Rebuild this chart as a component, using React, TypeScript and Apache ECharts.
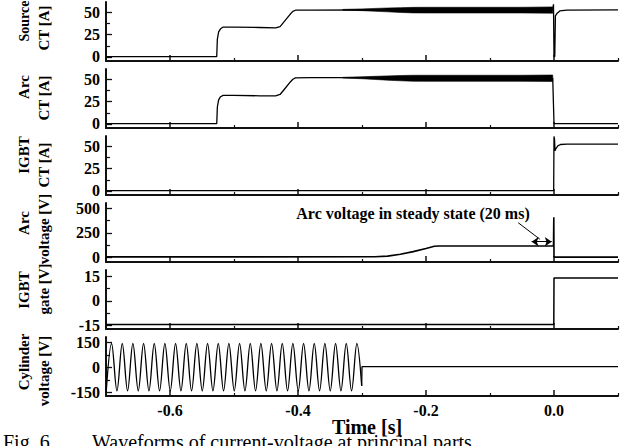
import React, { useEffect, useRef } from "react";
import * as echarts from "echarts";

// ---------------- data ----------------
const timeLabelTicks = [-0.6, -0.4, -0.2, 0.0];
const timeMinorTicks = [-0.5, -0.3, -0.1, 0.1];

const panelTitles = [
  ["Source", "CT [A]"],
  ["Arc", "CT [A]"],
  ["IGBT", "CT [A]"],
  ["Arc", "voltage [V]"],
  ["IGBT", "gate [V]"],
  ["Cylinder", "voltage [V]"],
];
const panelMajorTicks = [[0, 25, 50], [0, 25, 50], [0, 25, 50], [0, 250, 500], [-15, 0, 15], [-150, 0, 150]];
const panelMinorTicks = [[12.5, 37.5], [12.5, 37.5], [12.5, 37.5], [125, 375], [-7.5, 7.5], [-75, 75]];
const panelRanges = [[-4.5, 61.5], [-4.5, 61.5], [-4.5, 61.5], [-46, 556], [-17, 18.8], [-171, 183]];

// Source CT [A]
const srcT = [-0.7, -0.527, -0.526, -0.524, -0.521, -0.517, -0.5, -0.46, -0.435, -0.428, -0.42, -0.412, -0.408, -0.404, -0.38, -0.3, -0.2, -0.1, -0.002, -0.0008, 0.0, 0.0012, 0.0022, 0.005, 0.009, 0.02, 0.1];
const srcCT = [0.4, 0.4, 20, 28, 31.5, 33.5, 33.5, 33, 32.5, 34, 41, 48, 51, 52.3, 52.5, 52.8, 52.5, 52.5, 53, 59, 0.5, 0.5, 46, 49, 51.5, 52.5, 52.8];

// Arc CT [A]
const arcT = [-0.7, -0.527, -0.526, -0.524, -0.521, -0.517, -0.5, -0.46, -0.435, -0.428, -0.42, -0.412, -0.408, -0.404, -0.38, -0.3, -0.2, -0.1, -0.002, 0.0, 0.1];
const arcCT = [0.3, 0.3, 19, 27, 30.5, 32, 32, 31.5, 31.5, 33, 40, 47, 50, 51.5, 51.8, 51.8, 51.3, 51.3, 51.3, 0.5, 0.5];

// ripple envelopes (thick band) before the interruption
const rippleT = [-0.33, -0.3, -0.28, -0.26, -0.24, -0.22, -0.2, -0.15, -0.1, -0.05, -0.002];
const srcRippleHi = [53.2, 53.8, 54.3, 54.8, 55.2, 55.5, 55.6, 55.6, 55.6, 55.6, 56];
const srcRippleLo = [52.4, 51.8, 51.2, 50.5, 49.8, 49.3, 49.2, 49.2, 49.2, 49.2, 49];
const arcRippleHi = [52.2, 52.8, 53.3, 53.8, 54.2, 54.5, 54.5, 54.5, 54.5, 54.5, 54.8];
const arcRippleLo = [51.4, 50.6, 49.8, 49, 48.3, 47.8, 47.7, 47.7, 47.7, 47.7, 47.5];

// IGBT CT [A]
const igbtT = [-0.7, -0.0005, 0.0, 0.0008, 0.0016, 0.003, 0.006, 0.01, 0.02, 0.1];
const igbtCT = [0.3, 0.3, 61, 58, 45, 47.5, 50.5, 52, 52.5, 52.5];

// Arc voltage [V]
const arcVT = [-0.7, -0.28, -0.26, -0.24, -0.22, -0.2, -0.187, -0.18, -0.1, -0.0008, -0.0003, 0.0, 0.1];
const arcV = [6, 7, 14, 33, 60, 92, 115, 117, 117, 117, 410, 4, 4];

// IGBT gate [V]
const gateT = [-0.7, -0.0003, 0.0, 0.1];
const gateV = [-14.3, -14.3, 14, 14];

// Cylinder voltage [V]: extrema of the 60 Hz wave, then the flat part
const cylT = [
  -0.6996, -0.6913, -0.6829, -0.6746, -0.6663, -0.658, -0.6496, -0.6413, -0.6329, -0.6246,
  -0.6163, -0.608, -0.5996, -0.5913, -0.5829, -0.5746, -0.5663, -0.558, -0.5496, -0.5413,
  -0.5329, -0.5246, -0.5163, -0.508, -0.4996, -0.4913, -0.4829, -0.4746, -0.4663, -0.458,
  -0.4496, -0.4413, -0.4329, -0.4246, -0.4163, -0.408, -0.3996, -0.3913, -0.3829, -0.3746,
  -0.3663, -0.358, -0.3496, -0.3413, -0.3329, -0.3246, -0.3163, -0.308, -0.3005,
];
const cylV = [
  -140, 144, -140, 144, -140, 144, -140, 144, -140, 144,
  -140, 144, -140, 144, -140, 144, -140, 144, -140, 144,
  -140, 144, -140, 144, -140, 144, -140, 144, -140, 144,
  -140, 144, -140, 144, -140, 144, -140, 144, -140, 144,
  -140, 144, -140, 144, -140, 144, -140, 144, -110,
];
const cylRestT = [-0.3005, -0.3, 0.1];
const cylRestV = [-110, 5, 5];

// annotation
const annotationText = "Arc voltage in steady state (20 ms)";
const steadyArrow = [[-0.035, 161], [-0.0035, 161]];
const leaderLine = [[-0.056, 355], [-0.022, 186]];

// ---------------- chart ----------------
const zip = (t: number[], v: number[]) => t.map((x, i) => [x, v[i]]);
const SERIF = '"Liberation Serif", "Times New Roman", serif';
const INK = "#111";

export default function App() {
  const ref = useRef<HTMLDivElement>(null);

  useEffect(() => {
    if (!ref.current) return;
    const chart = echarts.init(ref.current, undefined, { renderer: "svg" });

    const grids: any[] = [];
    const xAxes: any[] = [];
    const yAxes: any[] = [];
    for (let i = 0; i < 6; i++) {
      grids.push({ left: 106, width: 512, top: 2 + 67 * i, height: 59 });
      xAxes.push({
        type: "value", gridIndex: i, position: "bottom", min: -0.7, max: 0.1,
        axisLine: { show: true, onZero: false, lineStyle: { color: INK, width: 2 } },
        axisTick: { show: true, inside: true, length: 6, customValues: timeLabelTicks, lineStyle: { color: INK, width: 1.5 } },
        axisLabel: {
          show: i === 5, customValues: timeLabelTicks, margin: 6,
          formatter: (v: number) => v.toFixed(1),
          fontFamily: SERIF, fontWeight: "bold", fontSize: 16, color: "#000",
        },
        splitLine: { show: false },
      });
      xAxes.push({
        type: "value", gridIndex: i, position: "bottom", min: -0.7, max: 0.1,
        axisLine: { show: false, onZero: false },
        axisTick: { show: true, inside: true, length: 3, customValues: timeMinorTicks, lineStyle: { color: INK, width: 1.2 } },
        axisLabel: { show: false },
        splitLine: { show: false },
      });
      yAxes.push({
        type: "value", gridIndex: i, position: "left", min: panelRanges[i][0], max: panelRanges[i][1],
        axisLine: { show: true, onZero: false, lineStyle: { color: INK, width: 2 } },
        axisTick: { show: true, inside: true, length: 6, customValues: panelMajorTicks[i], lineStyle: { color: INK, width: 1.3 } },
        axisLabel: {
          show: true, customValues: panelMajorTicks[i], margin: 6,
          fontFamily: SERIF, fontWeight: "bold", fontSize: 16, color: "#000",
        },
        splitLine: { show: false },
      });
      yAxes.push({
        type: "value", gridIndex: i, position: "left", min: panelRanges[i][0], max: panelRanges[i][1],
        axisLine: { show: false, onZero: false },
        axisTick: { show: true, inside: true, length: 4, customValues: panelMinorTicks[i], lineStyle: { color: INK, width: 1.2 } },
        axisLabel: { show: false },
        splitLine: { show: false },
      });
    }

    const line = (name: string, panel: number, data: number[][], extra: any = {}) => ({
      name, type: "line", xAxisIndex: 2 * panel, yAxisIndex: 2 * panel, data,
      showSymbol: false, symbol: "none", silent: true,
      lineStyle: { color: "#000", width: 1.3 }, z: 3, ...extra,
    });

    // ripple band drawn as one filled polygon between the two envelopes
    const band = (name: string, panel: number, lo: number[], hi: number[]) => {
      const rows = rippleT.map((t, k) => [t, lo[k], hi[k]]);
      return {
        name, type: "custom", xAxisIndex: 2 * panel, yAxisIndex: 2 * panel, silent: true, z: 2,
        data: rows,
        encode: { x: 0, y: [1, 2] },
        renderItem: (params: any, api: any) => {
          if (params.dataIndex !== 0) return null;
          const upper = rows.map((r) => api.coord([r[0], r[2]]));
          const lower = rows.map((r) => api.coord([r[0], r[1]])).reverse();
          return {
            type: "polygon",
            shape: { points: upper.concat(lower) },
            style: { fill: "#000", stroke: "#000", lineWidth: 0.6 },
          };
        },
      };
    };

    const series: any[] = [
      band("Source CT ripple", 0, srcRippleLo, srcRippleHi),
      line("Source CT", 0, zip(srcT, srcCT)),
      band("Arc CT ripple", 1, arcRippleLo, arcRippleHi),
      line("Arc CT", 1, zip(arcT, arcCT)),
      line("IGBT CT", 2, zip(igbtT, igbtCT)),
      line("Arc voltage", 3, zip(arcVT, arcV), {
        lineStyle: { color: "#000", width: 1.6 },
        markLine: {
          silent: true, animation: false, symbol: ["arrow", "arrow"], symbolSize: 7,
          label: { show: false }, lineStyle: { color: "#000", width: 1, type: "solid" },
          data: [
            [{ coord: steadyArrow[0] }, { coord: steadyArrow[1] }],
            [{ coord: leaderLine[0], symbol: "none" }, { coord: leaderLine[1], symbol: "none" }],
          ],
        },
      }),
      line("IGBT gate", 4, zip(gateT, gateV), { lineStyle: { color: "#000", width: 1.5 } }),
      line("Cylinder voltage", 5, zip(cylT, cylV), { smooth: 0.36, lineStyle: { color: "#000", width: 1.3 } }),
      line("Cylinder voltage rest", 5, zip(cylRestT, cylRestV)),
    ];

    const titleCenters = [
      [[24, 21], [44, 28]],
      [[24, 87], [44, 98]],
      [[24, 155], [44, 165]],
      [[24, 223], [44, 229]],
      [[24, 290], [44, 289]],
      [[24, 362], [44, 371]],
    ];
    const graphic: any[] = [];
    panelTitles.forEach((lines, i) => {
      lines.forEach((txt, j) => {
        graphic.push({
          type: "text", x: titleCenters[i][j][0], y: titleCenters[i][j][1], rotation: Math.PI / 2, silent: true,
          style: { text: txt, align: "center", verticalAlign: "middle", fontFamily: SERIF, fontWeight: "bold", fontSize: i === 0 && j === 0 ? 14 : 15, fill: "#000" },
        });
      });
    });
    graphic.push({
      type: "text", x: 413, y: 213, silent: true,
      style: { text: annotationText, align: "center", verticalAlign: "middle", fontFamily: SERIF, fontWeight: "bold", fontSize: 16, fill: "#000" },
    });
    graphic.push({
      type: "text", x: 367, y: 427, silent: true,
      style: { text: "Time [s]", align: "center", verticalAlign: "middle", fontFamily: SERIF, fontWeight: "bold", fontSize: 20, fill: "#000" },
    });
    graphic.push({
      type: "text", x: 3, y: 432, silent: true,
      style: { text: "Fig. 6", align: "left", verticalAlign: "top", fontFamily: SERIF, fontSize: 20, fill: "#000" },
    });
    graphic.push({
      type: "text", x: 92, y: 432, silent: true,
      style: { text: "Waveforms of current-voltage at principal parts.", align: "left", verticalAlign: "top", fontFamily: SERIF, fontSize: 20, fill: "#000" },
    });

    chart.setOption({
      animation: false,
      backgroundColor: "#fff",
      grid: grids,
      xAxis: xAxes,
      yAxis: yAxes,
      series,
      graphic,
    });
    return () => chart.dispose();
  }, []);

  return (
    <div
      ref={ref}
      style={{ position: "fixed", left: 0, top: 0, width: 628, height: 446, background: "#fff" }}
    />
  );
}
